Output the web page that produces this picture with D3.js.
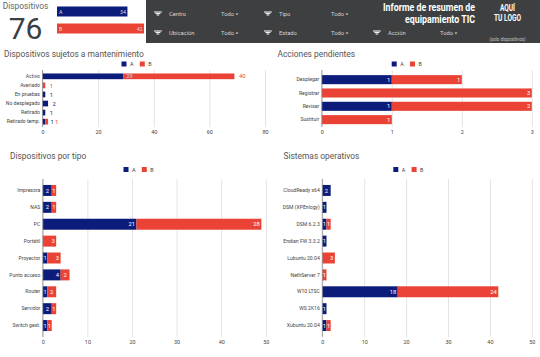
<!DOCTYPE html>
<html>
<head>
<meta charset="utf-8">
<script src="https://cdn.jsdelivr.net/npm/d3@7"></script>
<style>
  html, body { margin: 0; padding: 0; background: #fff; }
  svg { display: block; font-family: Roboto, sans-serif; }
  .tick text { fill: #444; }
  .grid line { stroke: #e4e4e4; }
</style>
</head>
<body>
<svg width="540" height="357"></svg>
<script>
var seriesNames = ["A", "B"];
var seriesColors = ["#0b1c7a", "#ea4335"];

var totalValue = 76;
var totalA = 34;
var totalB = 42;

var filterLabels = ["Centro", "Tipo", "Ubicación", "Estado", "Acción"];

var mantCats = ["Activo", "Averiado", "En pruebas", "No desplegado", "Retirado", "Retirado temp."];
var mantA = [29, 0, 1, 2, 1, 1];
var mantB = [40, 1, 0, 0, 0, 1];
var mantTicks = [0, 20, 40, 60, 80];

var accCats = ["Desplegar", "Registrar", "Revisar", "Sustituir"];
var accA = [1, 0, 1, 0];
var accB = [1, 3, 2, 1];
var accTicks = [0, 1, 2, 3];

var tipoCats = ["Impresora", "NAS", "PC", "Portátil", "Proyector", "Punto acceso", "Router", "Servidor", "Switch gest."];
var tipoA = [2, 2, 21, 0, 1, 4, 1, 2, 1];
var tipoB = [1, 1, 28, 3, 3, 2, 2, 1, 1];
var tipoTicks = [0, 10, 20, 30, 40, 50];

var soCats = ["CloudReady x64", "DSM (XPEnlogy)", "DSM 6.2.3", "Endian FW 3.3.2", "Lubuntu 20.04", "NethServer 7", "W10 LTSC", "WS 2K16", "Xubuntu 20.04"];
var soA = [2, 1, 1, 1, 0, 0, 18, 1, 1];
var soB = [0, 0, 1, 0, 3, 1, 24, 0, 1];
var soTicks = [0, 10, 20, 30, 40, 50];

var svg = d3.select("svg");

function barChart(o) {
    var fitX = d3.scaleLinear().domain([o.ticks[0], o.ticks[o.ticks.length - 1]]).range([o.left, o.right]);
    var fitY = d3.scaleBand().domain(o.cats).range([o.top, o.bottom]).paddingInner(o.pad).paddingOuter(o.pad / 2);
    var g = svg.append("g");

    g.append("text").attr("x", o.titleX).attr("y", o.titleY)
        .attr("font-size", 8.4).attr("fill", "#555").text(o.title);

    // legend
    seriesNames.forEach(function(s, i) {
        var lx = o.legendX + i * 18.3;
        g.append("rect").attr("x", lx).attr("y", o.legendY - 2.5).attr("width", 5).attr("height", 5).attr("fill", seriesColors[i]);
        g.append("text").attr("x", lx + 8.5).attr("y", o.legendY + 2.2).attr("font-size", 5.4).attr("fill", "#444").text(s);
    });

    // gridlines and value axis
    var xAxis = g.append("g").attr("class", "grid")
        .attr("transform", "translate(0," + o.axisBottom + ")")
        .call(d3.axisBottom(fitX).tickValues(o.ticks).tickFormat(d3.format("d")).tickSize(o.axisTop - o.axisBottom).tickPadding(4));
    xAxis.select(".domain").remove();
    xAxis.selectAll("text").attr("font-family", "Roboto").attr("font-size", 5.4)
        .attr("y", 7.2).attr("dy", 0);

    var rows = o.cats.map(function(c, i) { return {cat: c, a: o.a[i], b: o.b[i]}; });

    var bar = g.selectAll(".bar").data(rows).enter().append("g").attr("class", "bar");
    bar.append("rect")
        .attr("x", fitX(0))
        .attr("y", function(d) { return fitY(d.cat); })
        .attr("width", function(d) { return fitX(d.a) - fitX(0); })
        .attr("height", fitY.bandwidth())
        .attr("fill", seriesColors[0]);
    bar.append("rect")
        .attr("x", function(d) { return fitX(d.a); })
        .attr("y", function(d) { return fitY(d.cat); })
        .attr("width", function(d) { return fitX(d.a + d.b) - fitX(d.a); })
        .attr("height", fitY.bandwidth())
        .attr("fill", seriesColors[1]);

    // baseline on top of the bars
    g.append("line").attr("x1", fitX(0)).attr("x2", fitX(0)).attr("y1", o.axisTop).attr("y2", o.axisBottom)
        .attr("stroke", "#8a8a8a").attr("stroke-width", 0.8);

    // category labels
    var yAxis = g.append("g").attr("transform", "translate(" + fitX(0) + ",0)")
        .call(d3.axisLeft(fitY).tickSize(0).tickPadding(2.5));
    yAxis.select(".domain").remove();
    yAxis.selectAll("text").attr("font-family", "Roboto").attr("font-size", 5.1);

    // value labels
    rows.forEach(function(d) {
        var cy = fitY(d.cat) + fitY.bandwidth() / 2 + 2.1;
        function label(x, v, color, anchor) {
            g.append("text").attr("x", x).attr("y", cy).attr("font-size", 5.8).attr("fill", color)
                .attr("text-anchor", anchor).text(v);
        }
        if (o.outside) {
            if (d.a > 0 && d.b > 0 && d.a + d.b < 10) {
                label(fitX(d.a + d.b) + 2.5, d.a, seriesColors[0], "start");
                label(fitX(d.a + d.b) + 7, d.b, seriesColors[1], "start");
            } else {
                if (d.a > 0) {
                    // the A label of the long bar sits on top of the red part
                    label(fitX(d.a) + (d.b > 0 ? 3 : 4.5), d.a, d.b > 0 ? "#c9d3f0" : seriesColors[0], "start");
                }
                if (d.b > 0) label(fitX(d.a + d.b) + 4.5, d.b, seriesColors[1], "start");
            }
        } else {
            var minW = o.cellLabelWidth;
            if (d.a > 0) {
                var wa = fitX(d.a) - fitX(0);
                if (wa > minW) label(fitX(d.a) - 1.5, d.a, "#fff", "end");
                else label(fitX(0) + wa / 2, d.a, "#fff", "middle");
            }
            if (d.b > 0) {
                var wb = fitX(d.a + d.b) - fitX(d.a);
                if (wb > minW) label(fitX(d.a + d.b) - 1.5, d.b, "#fff", "end");
                else label(fitX(d.a) + wb / 2, d.b, "#fff", "middle");
            }
        }
    });
}

// scorecard
svg.append("text").attr("x", 25.5).attr("y", 9).attr("text-anchor", "middle")
    .attr("font-size", 8.4).attr("fill", "#666").text("Dispositivos");
svg.append("text").attr("x", 25.5).attr("y", 38.5).attr("text-anchor", "middle")
    .attr("font-size", 30).attr("fill", "#3c4043").text(totalValue);

var fitTotal = d3.scaleLinear().domain([0, totalB]).range([57, 144]);
[totalA, totalB].forEach(function(v, i) {
    var y = i == 0 ? 6.5 : 23.5;
    svg.append("rect").attr("x", fitTotal(0)).attr("y", y).attr("width", fitTotal(v) - fitTotal(0)).attr("height", 10)
        .attr("fill", seriesColors[i]);
    svg.append("text").attr("x", fitTotal(0) + 2).attr("y", y + 7).attr("font-size", 5.4).attr("fill", "#ddd").text(seriesNames[i]);
    svg.append("text").attr("x", fitTotal(v) - 1.5).attr("y", y + 7).attr("text-anchor", "end")
        .attr("font-size", 5.2).attr("fill", "#ddd").text(v);
});

// dark header with the filters
svg.append("rect").attr("x", 146).attr("y", 0).attr("width", 394).attr("height", 43).attr("fill", "#3d3f41");

function filterControl(ix, ty, name, todoX) {
    var icon = svg.append("g").attr("stroke", "#f0f0f0").attr("stroke-width", 1.1);
    [[0, 7.8], [1.5, 5], [3, 2.6]].forEach(function(l) {
        icon.append("line").attr("x1", ix + 3.9 - l[1] / 2).attr("x2", ix + 3.9 + l[1] / 2)
            .attr("y1", ty - 2 + l[0]).attr("y2", ty - 2 + l[0]);
    });
    svg.append("text").attr("x", ix + 15).attr("y", ty + 2).attr("font-size", 5.8).attr("fill", "#d4d4d4").text(name);
    svg.append("text").attr("x", todoX).attr("y", ty + 2).attr("font-size", 5.8).attr("fill", "#d4d4d4").text("Todo");
    var tw = todoX + 14.5;
    svg.append("path").attr("d", "M" + tw + "," + (ty - 0.5) + "h3l-1.5,1.8z").attr("fill", "#d4d4d4");
}
filterControl(154, 14, filterLabels[0], 221);
filterControl(264, 14, filterLabels[1], 279 + 52);
filterControl(154, 33, filterLabels[2], 221);
filterControl(264, 33, filterLabels[3], 331);
filterControl(373, 33, filterLabels[4], 440);

function headText(x, y, size, t, len, weight, anchor, color) {
    var el = svg.append("text").attr("x", x).attr("y", y).attr("font-size", size).attr("fill", color || "#fff")
        .attr("font-weight", weight).attr("text-anchor", anchor).text(t);
    if (len) el.attr("textLength", len).attr("lengthAdjust", "spacingAndGlyphs");
}
headText(475, 11, 10.8, "Informe de resumen de", 92, 700, "end");
headText(475, 23, 10.8, "equipamiento TIC", 70, 700, "end");
headText(507.5, 11, 8.2, "AQUÍ", 15, 700, "middle");
headText(507.5, 20.5, 8.2, "TU LOGO", 27, 700, "middle");
headText(507.5, 41, 4.8, "(solo dispositivos)", 36, 400, "middle", "#c8c8c8");

barChart({
    title: "Dispositivos sujetos a mantenimiento", titleX: 4, titleY: 57,
    legendX: 121.5, legendY: 64,
    cats: mantCats, a: mantA, b: mantB, ticks: mantTicks,
    left: 42.5, right: 265, top: 71.8, bottom: 126.2, axisTop: 70, axisBottom: 127,
    pad: 0.37, outside: true
});
barChart({
    title: "Acciones pendientes", titleX: 277.5, titleY: 57,
    legendX: 391.7, legendY: 64,
    cats: accCats, a: accA, b: accB, ticks: accTicks,
    left: 321.8, right: 531.8, top: 73, bottom: 126.3, axisTop: 70, axisBottom: 127,
    pad: 0.32, outside: false, cellLabelWidth: 8
});
barChart({
    title: "Dispositivos por tipo", titleX: 10, titleY: 158.5,
    legendX: 123.5, legendY: 169.5,
    cats: tipoCats, a: tipoA, b: tipoB, ticks: tipoTicks,
    left: 42.8, right: 265.8, top: 182, bottom: 334, axisTop: 179, axisBottom: 337,
    pad: 0.35, outside: false, cellLabelWidth: 10
});
barChart({
    title: "Sistemas operativos", titleX: 283.5, titleY: 158.5,
    legendX: 393.3, legendY: 169.5,
    cats: soCats, a: soA, b: soB, ticks: soTicks,
    left: 322.3, right: 531.8, top: 182, bottom: 334, axisTop: 179, axisBottom: 337,
    pad: 0.35, outside: false, cellLabelWidth: 10
});
</script>
</body>
</html>
